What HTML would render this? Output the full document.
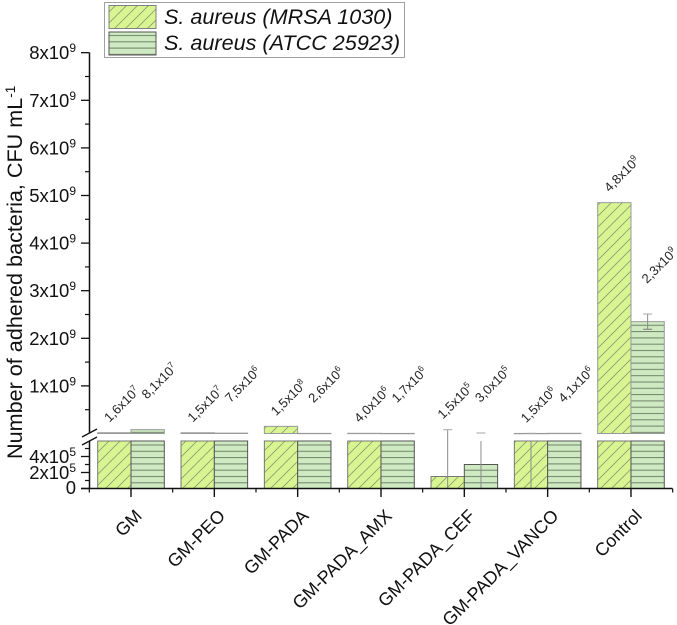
<!DOCTYPE html>
<html>
<head>
<meta charset="utf-8">
<style>
html,body{margin:0;padding:0;background:#fff;width:677px;height:625px;overflow:hidden}
svg{display:block;font-family:"Liberation Sans",Arial,sans-serif}
</style>
</head>
<body>
<svg id="chart" width="677" height="625" viewBox="0 0 677 625" xmlns="http://www.w3.org/2000/svg">
<defs>
<pattern id="hatch-diag" patternUnits="userSpaceOnUse" width="11" height="11">
<rect width="11" height="11" fill="#d8f591"/>
<path d="M-1 12L12 -1M-1 1L1 -1M10 12L12 10" stroke="#8a9c72" stroke-width="0.8"/>
</pattern>
<pattern id="hatch-horiz" patternUnits="userSpaceOnUse" width="13" height="6.3" y="1">
<rect width="13" height="6.3" fill="#cfeac2"/>
<path d="M0 3H13" stroke="#6f8268" stroke-width="1"/>
</pattern>
</defs>
<g id="bars"></g>
<g id="axes"></g>
<g id="labels"></g>
<text transform="translate(22,459) rotate(-90)" font-size="21.6" fill="#111">Number of adhered bacteria, CFU mL<tspan dy="-7" font-size="13.5">-1</tspan></text>
<g>
<rect x="104.5" y="2.5" width="300" height="55" fill="#fff" stroke="#a0a0a0" stroke-width="1"/>
<rect x="109" y="5.5" width="47" height="23" fill="url(#hatch-diag)" stroke="#808080"/>
<text x="164" y="24" font-size="21.6" font-style="italic" fill="#111">S. aureus (MRSA 1030)</text>
<rect x="109" y="32" width="47" height="23" fill="url(#hatch-horiz)" stroke="#555"/>
<text x="164" y="50" font-size="21.6" font-style="italic" fill="#111">S. aureus (ATCC 25923)</text>
</g>
</svg>
<script>
const categories = ["GM","GM-PEO","GM-PADA","GM-PADA_AMX","GM-PADA_CEF","GM-PADA_VANCO","Control"];
const mrsaValues = [1.6e7,1.5e7,1.5e8,4.0e6,1.5e5,1.5e6,4.85e9];
const atccValues = [8.1e7,7.5e6,2.6e6,1.7e6,3.0e5,4.1e6,2.35e9];
const mrsaErrors = [0,0,0,0,8e7,2e6,0];
const atccErrors = [0,0,0,0,1e7,0,1.6e8];
const mrsaPrinted = [["1,6","7"],["1,5","7"],["1,5","8"],["4,0","6"],["1,5","5"],["1,5","6"],["4,8","9"]];
const atccPrinted = [["8,1","7"],["7,5","6"],["2,6","6"],["1,7","6"],["3,0","5"],["4,1","6"],["2,3","9"]];
const upperMajorTicks = [1,2,3,4,5,6,7,8];
const upperMinorTicks = [0.5,1.5,2.5,3.5,4.5,5.5,6.5,7.5];
const lowerMajorTicks = [0,2e5,4e5];
const lowerMinorTicks = [1e5,3e5,5e5];

const NS = "http://www.w3.org/2000/svg";
const AXIS_X = 89.5, BASE_Y = 488.5, GAP_TOP = 433.5, GAP_BOTTOM = 441;
const BREAK_VALUE = 5.9e5;
function y(v){
  if(v <= BREAK_VALUE) return BASE_Y - v/1e5*8;
  return GAP_TOP - v/1e9*47.6;
}
function catX(i){ return 131 + i*83.33; }
function make(tag, attrs, parent){
  const el = document.createElementNS(NS, tag);
  for(const k in attrs) el.setAttribute(k, attrs[k]);
  parent.appendChild(el);
  return el;
}
const barsG = document.getElementById("bars");
const axesG = document.getElementById("axes");
const labelsG = document.getElementById("labels");
const BAR_W = 33.3;

function drawBar(v, x, fill, stroke, name){
  if(v <= BREAK_VALUE){
    const r = make("rect",{x:x,y:y(v),width:BAR_W,height:BASE_Y-y(v),fill:fill,stroke:stroke,"stroke-width":1},barsG);
    
    
  } else {
    const low = make("rect",{x:x,y:GAP_BOTTOM,width:BAR_W,height:BASE_Y-GAP_BOTTOM,fill:fill,stroke:stroke,"stroke-width":1},barsG);
    
    
    const top = make("rect",{x:x,y:y(v),width:BAR_W,height:Math.max(0.3,GAP_TOP-y(v)),fill:fill,stroke:"#999","stroke-width":1},barsG);
    
    
  }
}
function drawError(v, e, cx, name){
  if(!e) return;
  const topY = y(v+e);
  const botY = y(Math.max(0,v-e));
  const startY = (topY > 431 && botY > GAP_TOP) ? GAP_BOTTOM : topY;
  const ln = make("line",{x1:cx,x2:cx,y1:startY,y2:botY,stroke:"#8c8c8c","stroke-width":1},barsG);
  
  
  const cap = make("line",{x1:cx-4.5,x2:cx+4.5,y1:topY,y2:topY,stroke:"#a5a5a5","stroke-width":1},barsG);
  
  
  if(botY < GAP_TOP){
    const cap2 = make("line",{x1:cx-4.5,x2:cx+4.5,y1:botY,y2:botY,stroke:"#777","stroke-width":1},barsG);
    
    
  }
}
function drawValueLabel(parts, ax, ay, name){
  const t = make("text",{transform:"translate("+ax+","+ay+") rotate(-45)","font-size":13,fill:"#222"},labelsG);
  
  
  t.textContent = parts[0] + "x10";
  const s = make("tspan",{dy:-5,"font-size":8.5},t);
  s.textContent = parts[1];
}

categories.forEach(function(c,i){
  const cx = catX(i);
  const slug = c.toLowerCase().replace(/_/g,'-');
  drawBar(mrsaValues[i], cx-BAR_W, "url(#hatch-diag)", "#777", 'bar-mrsa-'+slug);
  drawBar(atccValues[i], cx, "url(#hatch-horiz)", "#555", 'bar-atcc-'+slug);
  drawError(mrsaValues[i], mrsaErrors[i], cx-BAR_W/2, 'error-bar-mrsa-'+slug);
  drawError(atccValues[i], atccErrors[i], cx+BAR_W/2, 'error-bar-atcc-'+slug);
  drawValueLabel(mrsaPrinted[i], cx-21.5, y(mrsaValues[i]+mrsaErrors[i])-10, 'value-label-mrsa-'+slug);
  drawValueLabel(atccPrinted[i], cx+16, y(atccValues[i]+atccErrors[i])-30, 'value-label-atcc-'+slug);
});

function axisLine(x1,y1,x2,y2,w,name){
  const l = make("line",{x1:x1,y1:y1,x2:x2,y2:y2,stroke:"#111","stroke-width":w},axesG);
  
  
}
axisLine(AXIS_X,52.5,AXIS_X,GAP_TOP,1.5,'y-axis-upper');
axisLine(AXIS_X,GAP_BOTTOM,AXIS_X,BASE_Y,1.5,'y-axis-lower');
axisLine(81,BASE_Y,672.5,BASE_Y,1.5,'x-axis');
axisLine(82,437,97,429,1.3,'axis-break-upper');
axisLine(82,445,97,437,1.3,'axis-break-lower');

function yLabel(text, sup, yPos, name){
  const t = make("text",{x:76,y:yPos,"text-anchor":"end","font-size":18.5,fill:"#111"},axesG);
  
  
  t.textContent = text;
  if(sup){
    const s = make("tspan",{dy:-7,"font-size":12},t);
    s.textContent = sup;
  }
}
upperMajorTicks.forEach(function(v){
  const yy = y(v*1e9);
  axisLine(81,yy,AXIS_X,yy,1.3,'y-tick-major');
  yLabel(v+"x10","9",yy+6.5,'y-tick-label-'+v+'e9');
});
upperMinorTicks.forEach(function(v){
  const yy = y(v*1e9);
  axisLine(85,yy,AXIS_X,yy,1.2,'y-tick-minor');
});
lowerMajorTicks.forEach(function(v){
  const yy = y(v);
  axisLine(81,yy,AXIS_X,yy,1.3,'y-tick-major-lower');
  if(v===0){ yLabel("0","",yy+5.5,'y-tick-label-0'); }
  else { yLabel((v/1e5)+"x10","5",yy+6.5,'y-tick-label-'+(v/1e5)+'e5'); }
});
lowerMinorTicks.forEach(function(v){
  const yy = y(v);
  axisLine(85,yy,AXIS_X,yy,1.2,'y-tick-minor-lower');
});

categories.forEach(function(c,i){
  const cx = catX(i);
  axisLine(cx,BASE_Y,cx,497,1.4,'x-tick-major');
  axisLine(cx-41.67,BASE_Y,cx-41.67,492.5,1.2,'x-tick-minor');
  if(i===categories.length-1) axisLine(cx+41.67,BASE_Y,cx+41.67,492.5,1.2,'x-tick-minor');
  const t = make("text",{transform:"translate("+(cx+12)+",517) rotate(-45)","text-anchor":"end","font-size":18,fill:"#111"},axesG);
  
  
  t.textContent = c;
});
</script>
</body>
</html>
